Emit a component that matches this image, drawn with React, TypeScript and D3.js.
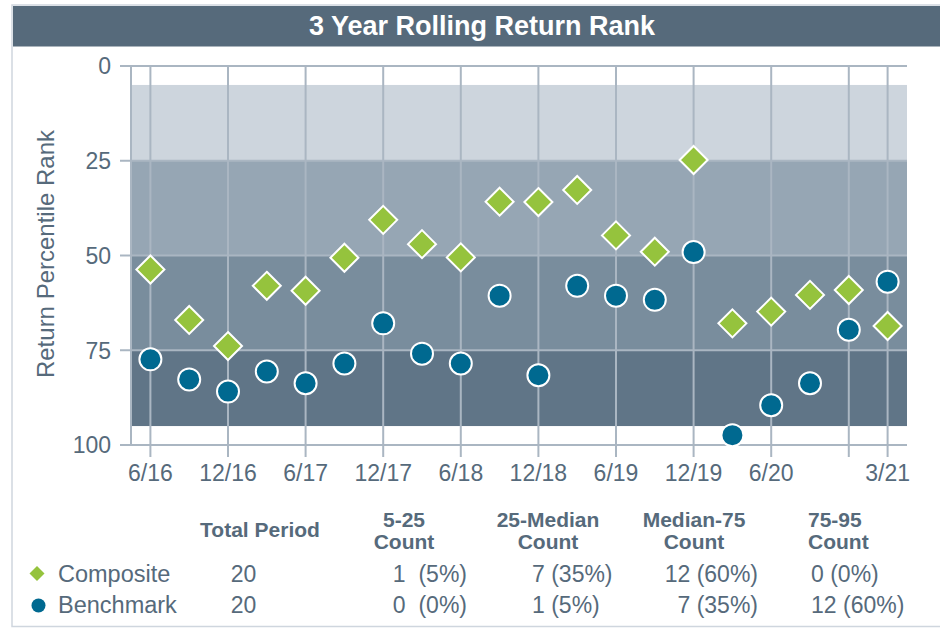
import React from "react";
import * as d3 from "d3";

const periods = ["6/16","9/16","12/16","3/17","6/17","9/17","12/17","3/18","6/18","9/18","12/18","3/19","6/19","9/19","12/19","3/20","6/20","9/20","12/20","3/21"];
const composite = [53.7,67,73.9,58,59.3,50.6,40.6,47,50.5,35.8,35.9,32.7,44.7,49,24.8,67.9,64.8,60.4,59.1,68.6];
const benchmark = [77.4,82.7,85.9,80.6,83.7,78.5,67.9,75.9,78.5,60.6,81.6,58,60.6,61.7,49.1,97.4,89.5,83.7,69.6,56.9];
const gridPeriods = ["6/16","12/16","6/17","12/17","6/18","12/18","6/19","12/19","6/20","12/20","3/21"];
const labelPeriods = ["6/16","12/16","6/17","12/17","6/18","12/18","6/19","12/19","6/20","3/21"];
const yTicks = [0,25,50,75,100];
const bandEdges = [5,25,50,75,95];
const bandColors = ["#cdd5dd","#96a6b4","#798d9d","#607587"];

const seriesNames = ["Composite","Benchmark"];
const totalPeriods = [20,20];
const compositeCounts = [1,7,12,0];
const benchmarkCounts = [0,1,7,12];
const headerLines = [["5-25","Count"],["25-Median","Count"],["Median-75","Count"],["75-95","Count"]];

const FONT = "'Liberation Sans', Arial, Helvetica, sans-serif";
const TXT = "#566a7b";
const GRID = "#aab6c2";
const GREEN = "#95c33d";
const BLUE = "#006990";

const W = 940, H = 629;
const plot = { left: 131, right: 907, top: 66, bottom: 445 };

export default function App() {
  const x = d3.scaleLinear().domain([-0.5, periods.length - 0.5]).range([plot.left, plot.right]);
  const y = d3.scaleLinear().domain([0, 100]).range([plot.top, plot.bottom]);
  const xi = (p: string) => x(periods.indexOf(p));

  const diamond = (cx: number, cy: number, r: number) =>
    `M${cx},${cy - r}L${cx + r},${cy}L${cx},${cy + r}L${cx - r},${cy}Z`;

  const fmt = (n: number, total: number, sep: string) => `${n}${sep}(${Math.round((n / total) * 100)}%)`;

  const headerX = [404, 548, 694, 808];
  const headerAnchor = ["middle", "middle", "middle", "start"];
  const valX = [467, 532, 758, 811];
  const valAnchor = ["end", "start", "end", "start"];
  const rowsY = [582, 613];
  const rowCounts = [compositeCounts, benchmarkCounts];

  return (
    <svg width={W} height={H} style={{ position: "fixed", left: 0, top: 0, background: "#fff" }} fontFamily={FONT}>
      <rect x={12} y={5} width={940} height={621.5} fill="#fff" stroke="#cfd6de" strokeWidth={1.5} />
      <rect x={13} y={6} width={930} height={40.5} fill="#566a7b" />
      <text x={482} y={35} textAnchor="middle" fill="#fff" fontSize={27} fontWeight="bold">3 Year Rolling Return Rank</text>

      {bandColors.map((c, i) => (
        <rect key={i} x={plot.left} y={y(bandEdges[i])} width={plot.right - plot.left} height={y(bandEdges[i + 1]) - y(bandEdges[i])} fill={c} />
      ))}

      {yTicks.map((t) => (
        <g key={t}>
          <line x1={t === 0 || t === 100 ? 120 : plot.left} x2={plot.right} y1={y(t)} y2={y(t)} stroke={GRID} strokeWidth={2} />
          <line x1={120} x2={plot.left} y1={y(t)} y2={y(t)} stroke={GRID} strokeWidth={2} />
          <text x={111} y={y(t)} dy="0.36em" textAnchor="end" fill={TXT} fontSize={23}>{t}</text>
        </g>
      ))}
      <line x1={plot.left} x2={plot.left} y1={plot.top} y2={plot.bottom} stroke={GRID} strokeWidth={2} />

      {gridPeriods.map((p) => (
        <line key={p} x1={xi(p)} x2={xi(p)} y1={plot.top} y2={457} stroke={GRID} strokeWidth={2} />
      ))}
      {labelPeriods.map((p) => (
        <text key={p} x={xi(p)} y={481} textAnchor="middle" fill={TXT} fontSize={23}>{p}</text>
      ))}

      <text transform={`translate(54,254) rotate(-90)`} textAnchor="middle" fill={TXT} fontSize={24}>Return Percentile Rank</text>

      {composite.map((v, i) => (
        <path key={"c" + i} d={diamond(x(i), y(v), 14)} fill={GREEN} stroke="#fff" strokeWidth={2} />
      ))}
      {benchmark.map((v, i) => (
        <circle key={"b" + i} cx={x(i)} cy={y(v)} r={11} fill={BLUE} stroke="#fff" strokeWidth={2} />
      ))}

      <text x={260} y={537} textAnchor="middle" fill={TXT} fontSize={21} fontWeight="bold">Total Period</text>
      {headerLines.map((lines, i) => (
        <text key={i} textAnchor={headerAnchor[i]} fill={TXT} fontSize={21} fontWeight="bold">
          <tspan x={headerX[i]} y={527}>{lines[0]}</tspan>
          <tspan x={headerX[i]} y={549}>{lines[1]}</tspan>
        </text>
      ))}

      {seriesNames.map((name, r) => (
        <g key={name}>
          {r === 0 ? (
            <path d={diamond(37, rowsY[r] - 8.5, 7.5)} fill={GREEN} />
          ) : (
            <circle cx={38.5} cy={rowsY[r] - 7.5} r={7} fill={BLUE} />
          )}
          <text x={58} y={rowsY[r]} fill={TXT} fontSize={23.5}>{name}</text>
          <text x={243.5} y={rowsY[r]} textAnchor="middle" fill={TXT} fontSize={23}>{totalPeriods[r]}</text>
          {rowCounts[r].map((n, c) => (
            <text key={c} x={valX[c]} y={rowsY[r]} textAnchor={valAnchor[c]} fill={TXT} fontSize={23} style={{ whiteSpace: "pre" }}>
              {fmt(n, totalPeriods[r], c === 0 ? "  " : " ")}
            </text>
          ))}
        </g>
      ))}
    </svg>
  );
}
